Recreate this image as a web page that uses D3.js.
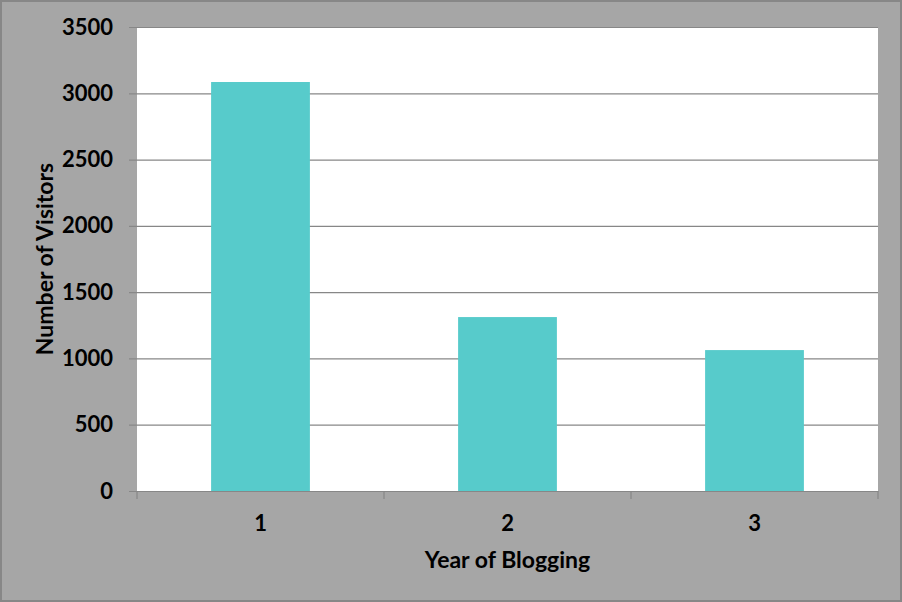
<!DOCTYPE html>
<html>
<head>
<meta charset="utf-8">
<script src="https://cdn.jsdelivr.net/npm/d3@7.9.0/dist/d3.min.js"></script>
<style>
  html, body { margin: 0; padding: 0; background: #fff; }
  svg { display: block; }
  text { font-family: Lato, "Open Sans", sans-serif; font-weight: bold; fill: #000; }
</style>
</head>
<body>
<svg id="chart" width="902" height="602"></svg>
<script>
// data
const years = ['1', '2', '3'];
const visitors = [3085, 1312, 1063];
const yTicks = [0, 500, 1000, 1500, 2000, 2500, 3000, 3500];

const width = 902, height = 602;
const margin = { top: 27, right: 24, bottom: 111, left: 137 };

const svg = d3.select('#chart');

// outer frame
svg.append('rect')
  .attr('x', 1).attr('y', 1)
  .attr('width', width - 2).attr('height', height - 2)
  .attr('fill', '#a6a6a6')
  .attr('stroke', '#878787')
  .attr('stroke-width', 2);

let x = d3.scaleBand()
  .domain(years)
  .range([margin.left, width - margin.right])
  .padding(0);

let y = d3.scaleLinear()
  .domain([0, 3500])
  .range([height - margin.bottom, margin.top]);

// plot area
svg.append('rect')
  .attr('x', margin.left).attr('y', margin.top)
  .attr('width', width - margin.left - margin.right)
  .attr('height', height - margin.top - margin.bottom)
  .attr('fill', '#fff');

// gridlines + y axis
let yAxis = d3.axisLeft(y)
  .tickValues(yTicks)
  .tickFormat(d3.format('d'))
  .tickSize(-(width - margin.left - margin.right))
  .tickSizeOuter(0);

let gy = svg.append('g')
  .attr('transform', `translate(${margin.left},0)`)
  .call(yAxis);
gy.select('.domain').remove();
gy.selectAll('.tick line')
  .attr('x1', -8)
  .attr('stroke', '#878787')
  .attr('stroke-width', 1.2);
gy.selectAll('.tick text')
  .attr('x', -24)
  .attr('font-size', 22)
  .attr('font-family', 'Lato, sans-serif')
  .attr('font-weight', 'bold');

// bars (gap width 150%)
let barW = x.bandwidth() * 0.4;
svg.append('g')
  .selectAll('rect')
  .data(visitors)
  .join('rect')
  .attr('x', (d, i) => x(years[i]) + (x.bandwidth() - barW) / 2)
  .attr('y', d => y(d))
  .attr('width', barW)
  .attr('height', d => y(0) - y(d))
  .attr('fill', '#57cbcb');

// x axis
let xAxis = d3.axisBottom(x).tickSize(0).tickPadding(24);
let gx = svg.append('g')
  .attr('transform', `translate(0,${y(0)})`)
  .call(xAxis);
gx.select('.domain').attr('stroke', '#878787').attr('stroke-width', 1.2);
gx.selectAll('.tick text')
  .attr('font-size', 22)
  .attr('font-family', 'Lato, sans-serif')
  .attr('font-weight', 'bold');

// category boundary ticks
let bounds = years.map(d => x(d)).concat([x(years[years.length - 1]) + x.bandwidth()]);
gx.selectAll('line.sep')
  .data(bounds)
  .join('line')
  .attr('class', 'sep')
  .attr('x1', d => d).attr('x2', d => d)
  .attr('y1', 0).attr('y2', 8)
  .attr('stroke', '#878787')
  .attr('stroke-width', 1.2);

// axis titles
svg.append('text')
  .attr('x', (margin.left + width - margin.right) / 2)
  .attr('y', 568)
  .attr('text-anchor', 'middle')
  .attr('font-size', 23)
  .text('Year of Blogging');

svg.append('text')
  .attr('transform', `translate(53,${(margin.top + y(0)) / 2}) rotate(-90)`)
  .attr('text-anchor', 'middle')
  .attr('font-size', 23)
  .text('Number of Visitors');
</script>
</body>
</html>
